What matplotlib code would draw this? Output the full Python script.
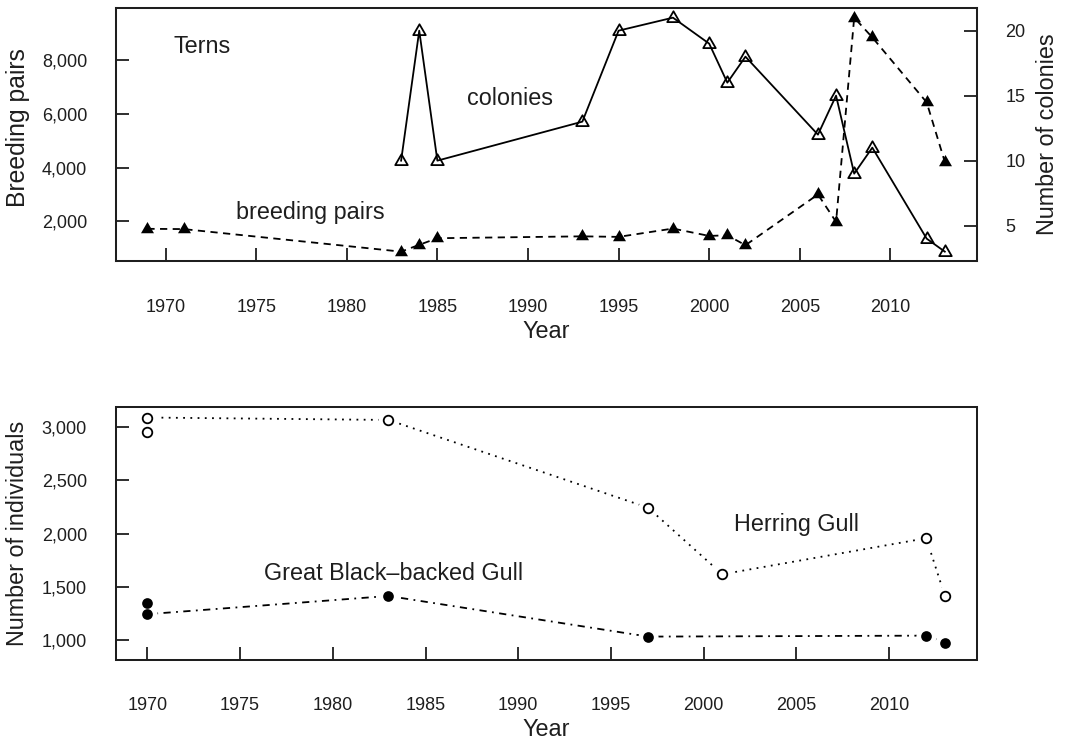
import matplotlib
matplotlib.use("Agg")
import matplotlib.pyplot as plt
from matplotlib.path import Path
from matplotlib.ticker import FuncFormatter, FixedLocator

plt.rcParams['font.family'] = ['Liberation Sans', 'DejaVu Sans']

# ---------------- data ----------------
# Terns: breeding pairs (filled triangles, dashed)
bp_years = [1969, 1971, 1983, 1984, 1985, 1993, 1995, 1998, 2000, 2001, 2002,
            2006, 2007, 2008, 2009, 2012, 2013]
bp_values = [1720, 1710, 870, 1125, 1370, 1440, 1420, 1730, 1455, 1480, 1110,
             3000, 1980, 9585, 8850, 6430, 4215]
# Terns: number of colonies (open triangles, solid)
col_years = [1983, 1984, 1985, 1993, 1995, 1998, 2000, 2001, 2002,
             2006, 2007, 2008, 2009, 2012, 2013]
col_values = [10, 20, 10, 13, 20, 21, 19, 16, 18, 12, 15, 9, 11, 4, 3]

# Gulls: number of individuals
hg_years = [1970, 1970, 1983, 1997, 2001, 2012, 2013]
hg_values = [2953, 3092, 3069, 2244, 1618, 1957, 1417]
gbbg_years = [1970, 1970, 1983, 1997, 2012, 2013]
gbbg_values = [1346, 1243, 1414, 1032, 1041, 975]

year_ticks = [1970, 1975, 1980, 1985, 1990, 1995, 2000, 2005, 2010]
bp_ticks = [2000, 4000, 6000, 8000]
col_ticks = [5, 10, 15, 20]
ind_ticks = [1000, 1500, 2000, 2500, 3000]
ind_range = (900, 3100)

# ---------------- style ----------------
W, H = 1067, 743
INK = '#1e1e1e'
LW = 1.3
TICK_FS = 13
LAB_FS = 16.8


def rlim(lo, hi, f=0.04):
    d = (hi - lo) * f
    return lo - d, hi + d


def comma(v, p):
    return f'{int(round(v)):,}'


tri = Path([(0, 1), (-0.8660254, -0.5), (0.8660254, -0.5), (0, 1)],
           [Path.MOVETO, Path.LINETO, Path.LINETO, Path.CLOSEPOLY])

fig = plt.figure(figsize=(W / 100, H / 100), dpi=100)

L, R = 115.5, 976.7
ax1 = fig.add_axes([L / W, 1 - 261 / H, (R - L) / W, (261 - 8.3) / H])
ax3 = fig.add_axes([L / W, 1 - 660 / H, (R - L) / W, (660 - 407.3) / H])


def style_spines(ax):
    for s in ax.spines.values():
        s.set_linewidth(1.45)
        s.set_color(INK)


# ---------------- top panel ----------------
ax1.plot(bp_years, bp_values, color='k', lw=LW, dashes=(4, 3),
         marker=tri, ms=10.8, mfc='k', mec='k', mew=0, zorder=3)
ax1.set_xlim(*rlim(min(bp_years + col_years), max(bp_years + col_years)))
ax1.set_ylim(*rlim(min(bp_values), max(bp_values)))
ax2 = ax1.twinx()
ax2.plot(col_years, col_values, color='k', lw=LW, marker=tri, ms=10.4,
         mfc='none', mec='k', mew=1.3, zorder=3)
ax2.set_ylim(*rlim(min(col_values), max(col_values)))

for ax in (ax1, ax2, ax3):
    style_spines(ax)

ax1.xaxis.set_major_locator(FixedLocator(year_ticks))
ax1.yaxis.set_major_locator(FixedLocator(bp_ticks))
ax1.yaxis.set_major_formatter(FuncFormatter(comma))
ax2.yaxis.set_major_locator(FixedLocator(col_ticks))

ax1.tick_params(axis='x', direction='in', length=9.4, width=1.3, color=INK,
                labelsize=TICK_FS, labelcolor=INK, pad=27)
ax1.tick_params(axis='y', direction='in', length=9.4, width=1.3, color=INK,
                labelsize=TICK_FS, labelcolor=INK, pad=20.5)
ax2.tick_params(axis='y', direction='in', length=9.4, width=1.3, color=INK,
                labelsize=TICK_FS, labelcolor=INK, pad=20.5)

ax1.text(1972.0, 8286, 'Terns', ha='center', va='baseline',
         fontsize=LAB_FS, color=INK)
ax1.text(1989.0, 6330, 'colonies', ha='center', va='baseline',
         fontsize=LAB_FS, color=INK)
ax1.text(1978.0, 2100, 'breeding pairs', ha='center', va='baseline',
         fontsize=LAB_FS, color=INK)

axh = 261 - 8.3
ax1.set_xlabel('Year', fontsize=LAB_FS, color=INK)
ax1.xaxis.label.set_verticalalignment('baseline')
ax1.xaxis.set_label_coords(0.5, -(338.3 - 261) / axh)
ax1.set_ylabel('Breeding pairs', fontsize=17.8, color=INK)
ax1.yaxis.label.set_verticalalignment('center')
ax1.yaxis.set_label_coords((17.5 - L) / (R - L), (261 - 127.5) / axh)
ax2.set_ylabel('Number of colonies', fontsize=LAB_FS, color=INK)
ax2.yaxis.label.set_verticalalignment('center')
ax2.yaxis.set_label_coords((1047.3 - L) / (R - L), 0.5)

# ---------------- bottom panel ----------------
ax3.plot(hg_years, hg_values, color='k', lw=LW, dashes=(1, 3), zorder=2)
ax3.plot(gbbg_years, gbbg_values, color='k', lw=LW, dashes=(1, 3, 4, 3),
         zorder=2)
# white halos leave small gaps between the lines and the points
ax3.plot(hg_years, hg_values, ls='none', marker='o', ms=14.5, mfc='white',
         mec='none', zorder=3)
ax3.plot(gbbg_years, gbbg_values, ls='none', marker='o', ms=14.5,
         mfc='white', mec='none', zorder=3)
ax3.plot(hg_years, hg_values, ls='none', marker='o', ms=6.9, mfc='white',
         mec='k', mew=1.3, zorder=4)
ax3.plot(gbbg_years, gbbg_values, ls='none', marker='o', ms=7.7, mfc='k',
         mec='k', mew=0, zorder=4)

ax3.set_xlim(*rlim(min(hg_years + gbbg_years), max(hg_years + gbbg_years)))
ax3.set_ylim(*rlim(*ind_range))
ax3.xaxis.set_major_locator(FixedLocator(year_ticks))
ax3.yaxis.set_major_locator(FixedLocator(ind_ticks))
ax3.yaxis.set_major_formatter(FuncFormatter(comma))
ax3.tick_params(axis='x', direction='in', length=9.4, width=1.3, color=INK,
                labelsize=TICK_FS, labelcolor=INK, pad=27)
ax3.tick_params(axis='y', direction='in', length=9.4, width=1.3, color=INK,
                labelsize=TICK_FS, labelcolor=INK, pad=20.5)

ax3.text(2005.0, 2028, 'Herring Gull', ha='center', va='baseline',
         fontsize=LAB_FS, color=INK)
ax3.text(1983.3, 1565, 'Great Black\u2013backed Gull', ha='center',
         va='baseline', fontsize=LAB_FS, color=INK)

axh3 = 660 - 407.3
ax3.set_xlabel('Year', fontsize=LAB_FS, color=INK)
ax3.xaxis.label.set_verticalalignment('baseline')
ax3.xaxis.set_label_coords(0.5, -(735.6 - 660) / axh3)
ax3.set_ylabel('Number of individuals', fontsize=LAB_FS, color=INK)
ax3.yaxis.label.set_verticalalignment('center')
ax3.yaxis.set_label_coords((17.5 - L) / (R - L), 0.5)

fig.savefig('out.png', dpi=100)
